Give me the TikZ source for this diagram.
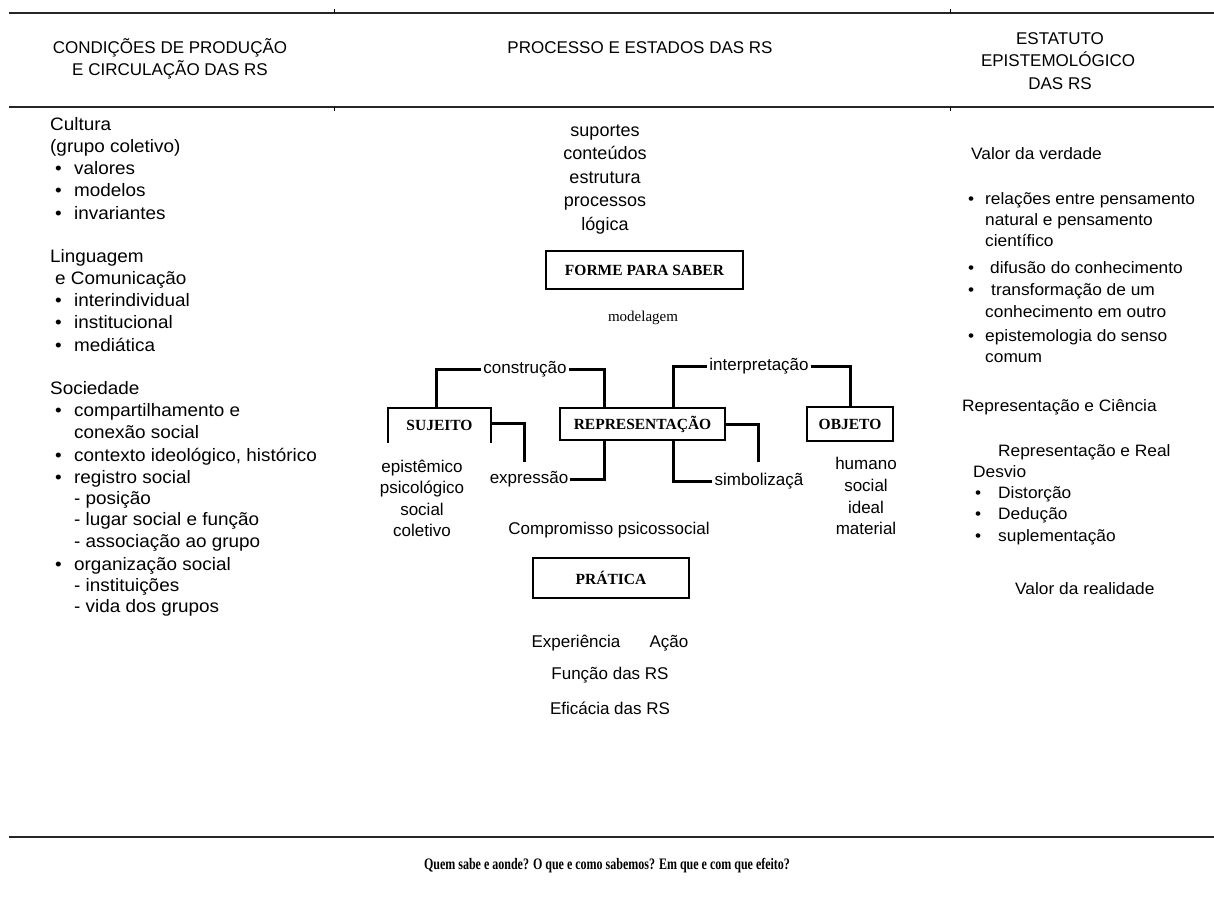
\documentclass[tikz,border=0pt]{standalone}
\usepackage{fontspec}
\setmainfont{Liberation Sans}
\newfontfamily\widesans[FakeStretch=1.05]{Liberation Sans}
\newfontfamily\serifr{Liberation Serif}
\newfontfamily\serifc[FakeStretch=0.75]{Liberation Serif}
\usetikzlibrary{calc}
\begin{document}
\begin{tikzpicture}[x=1pt,y=-1pt,
  lt/.style={anchor=base west,inner sep=0pt,font=\widesans\fontsize{18}{21}\selectfont},
  rt/.style={anchor=base west,inner sep=0pt,font=\widesans\fontsize{16.5}{19}\selectfont},
  ct/.style={anchor=base,inner sep=0pt,font=\fontsize{17}{20}\selectfont},
  st/.style={anchor=base,inner sep=0pt,font=\fontsize{18}{21}\selectfont},
  lab/.style={inner sep=2pt,font=\fontsize{17}{20}\selectfont},
  hd/.style={anchor=base,inner sep=0pt,font=\fontsize{17}{20}\selectfont},
  boxn/.style={draw,line width=1.5pt,inner sep=0pt,font=\serifr\bfseries\fontsize{15.5}{18}\selectfont},
  conn/.style={line width=3pt},
  rule/.style={line width=2.5pt,black!85},
  tick/.style={line width=1pt}]
\useasboundingbox (0,0) rectangle (1214,897);

% rules
\draw[rule] (9,13) -- (1214,13);
\draw[rule] (9,107) -- (1214,107);
\draw[rule] (9,837) -- (1214,837);
\draw[tick] (334,13) -- (334,9);
\draw[tick] (950,13) -- (950,9);
\draw[tick] (334,107) -- (334,111);
\draw[tick] (950,107) -- (950,111);

% headers
\node[hd] (h1a) at (170,53) {CONDIÇÕES DE PRODUÇÃO};
\node[hd] (h1b) at (170,75) {E CIRCULAÇÃO DAS RS};
\node[hd] (h2) at (640,53) {PROCESSO E ESTADOS DAS RS};
\node[hd] (h3a) at (1060,44) {ESTATUTO};
\node[hd] (h3b) at (1058,66) {EPISTEMOLÓGICO};
\node[hd] (h3c) at (1060,89) {DAS RS};

% left column
\newcommand{\bul}{\makebox[19pt][l]{•}}
\node[lt] (l1) at (50,130) {Cultura};
\node[lt] (l2) at (50,152) {(grupo coletivo)};
\node[lt] (l3) at (55,174) {\bul valores};
\node[lt] (l4) at (55,196) {\bul modelos};
\node[lt] (l5) at (55,219) {\bul invariantes};
\node[lt] (l6) at (50,262) {Linguagem};
\node[lt] (l7) at (55,284) {e Comunicação};
\node[lt] (l8) at (55,306) {\bul interindividual};
\node[lt] (l9) at (55,328) {\bul institucional};
\node[lt] (l10) at (55,351) {\bul mediática};
\node[lt] (l11) at (50,394) {Sociedade};
\node[lt] (l12) at (55,416) {\bul compartilhamento e};
\node[lt] (l13) at (74,438) {conexão social};
\node[lt] (l14) at (55,461) {\bul contexto ideológico, histórico};
\node[lt] (l15) at (55,483) {\bul registro social};
\node[lt] (l16) at (74,504) {- posição};
\node[lt] (l17) at (74,525) {- lugar social e função};
\node[lt] (l18) at (74,547) {- associação ao grupo};
\node[lt] (l19) at (55,570) {\bul organização social};
\node[lt] (l20) at (74,591) {- instituições};
\node[lt] (l21) at (74,612) {- vida dos grupos};

% right column
\node[rt] (r1) at (971,159) {Valor da verdade};
\node[rt] (r2) at (968,204) {\makebox[17pt][l]{•}relações entre pensamento};
\node[rt] (r3) at (985,225) {natural e pensamento};
\node[rt] (r4) at (985,246) {científico};
\node[rt] (r5) at (968,273) {\makebox[22pt][l]{•}difusão do conhecimento};
\node[rt] (r6) at (968,295) {\makebox[23pt][l]{•}transformação de um};
\node[rt] (r7) at (985,317) {conhecimento em outro};
\node[rt] (r8) at (968,341) {\makebox[17pt][l]{•}epistemologia do senso};
\node[rt] (r9) at (985,362) {comum};
\node[rt] (r10) at (962,411) {Representação e Ciência};
\node[rt] (r11) at (998,456) {Representação e Real};
\node[rt] (r12) at (973,477) {Desvio};
\node[rt] (r13) at (975,498) {\makebox[23pt][l]{•}Distorção};
\node[rt] (r14) at (975,519) {\makebox[23pt][l]{•}Dedução};
\node[rt] (r15) at (975,541) {\makebox[23pt][l]{•}suplementação};
\node[rt] (r16) at (1015,594) {Valor da realidade};

% center stack
\node[st] (c1) at (605,136) {suportes};
\node[st] (c2) at (605,159) {conteúdos};
\node[st] (c3) at (605,183) {estrutura};
\node[st] (c4) at (605,206) {processos};
\node[st] (c5) at (605,230) {lógica};

\node[boxn,minimum width=197pt,minimum height=38pt] (forme) at (644.5,270) {FORME PARA SABER};
\node[inner sep=0pt,font=\serifr\fontsize{15}{18}\selectfont] (model) at (643,318) {modelagem};

% main boxes
\node[inner sep=0pt,minimum width=103pt,minimum height=35pt,font=\serifr\bfseries\fontsize{15.5}{18}\selectfont] (suj) at (439.5,425.5) {SUJEITO};
\draw[line width=1.5pt] (suj.south west) -- (suj.north west) -- (suj.north east) -- (suj.south east);
\node[boxn,minimum width=165pt,minimum height=32pt] (rep) at (642.5,424) {REPRESENTAÇÃO};
\node[boxn,minimum width=86pt,minimum height=34pt] (obj) at (850,424) {OBJETO};

% connector labels
\node[lab] (constr) at (525,369) {construção};
\node[lab] (interp) at (759,366) {interpretação};
\node[lab] (expr) at (529,479) {expressão};
\node[lab] (simb) at (759,481) {simbolizaçã};

\coordinate (e1) at (524,462);
\coordinate (e2) at (758,462);

\draw[conn] ($(suj.north)+(-3,0)$) |- (constr.west);
\draw[conn] (constr.east) -| ($(rep.north)+(-38.5,0)$);
\draw[conn] ($(suj.east)+(0,-2)$) -| (e1);
\draw[conn] (expr.east) -| ($(rep.south)+(-38.5,0)$);
\draw[conn] ($(rep.north)+(30.5,0)$) |- (interp.west);
\draw[conn] (interp.east) -| (obj.north);
\draw[conn] (rep.east) -| (e2);
\draw[conn] ($(rep.south)+(30.5,0)$) |- (simb.west);

% sub-labels
\node[ct] (s1) at (422,472) {epistêmico};
\node[ct] (s2) at (422,493) {psicológico};
\node[ct] (s3) at (422,515) {social};
\node[ct] (s4) at (422,536) {coletivo};
\node[ct] (o1) at (866,469) {humano};
\node[ct] (o2) at (866,491) {social};
\node[ct] (o3) at (866,513) {ideal};
\node[ct] (o4) at (866,534) {material};

\node[ct] (comp) at (609,534) {Compromisso psicossocial};
\node[boxn,minimum width=156pt,minimum height=40pt] (prat) at (611,578) {PRÁTICA};
\node[ct] (exp) at (576,647) {Experiência};
\node[ct] (acao) at (669,647) {Ação};
\node[ct] (func) at (610,679) {Função das RS};
\node[ct] (efic) at (610,714) {Eficácia das RS};

\node[inner sep=0pt,font=\serifc\bfseries\fontsize{16}{19}\selectfont] (q) at (607,866) {Quem sabe e aonde? O que e como sabemos? Em que e com que efeito?};
\end{tikzpicture}
\end{document}
